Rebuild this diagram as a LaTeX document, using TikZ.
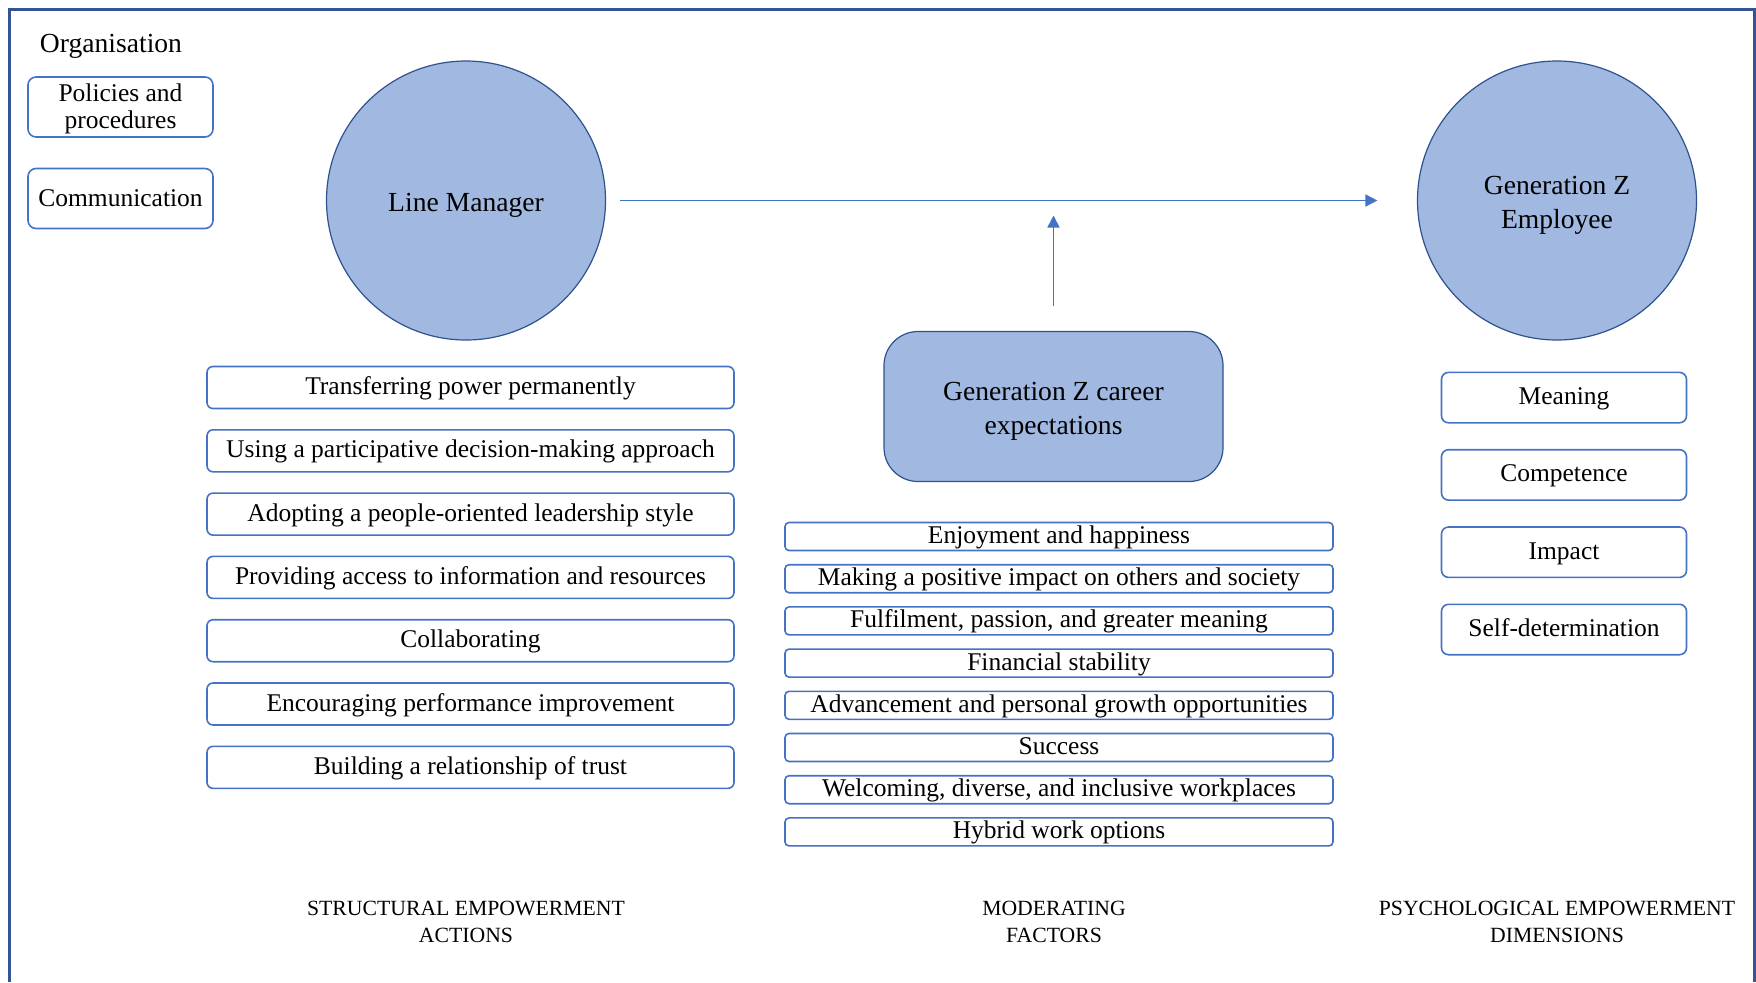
\documentclass[tikz,border=0pt]{standalone}
\usepackage{fontspec}
\setmainfont{Liberation Serif}
\usetikzlibrary{positioning,arrows.meta}

\definecolor{frameblue}{RGB}{52,84,150}
\definecolor{darkblue}{RGB}{47,82,143}
\definecolor{boxblue}{RGB}{68,114,196}
\definecolor{fillblue}{RGB}{161,184,225}

% pushes node text a little lower in its shape
\newcommand{\padtop}[1]{\rule{0pt}{#1}}

\begin{document}
\begin{tikzpicture}[x=0.5pt,y=-0.5pt,>={Triangle[length=6pt,width=6pt]}]
    \tikzset{bigfont/.style={font=\fontsize{13.8}{16.8}\selectfont},
             itemfont/.style={font=\fontsize{12.75}{13.5}\selectfont},
             actor/.style={circle,draw=darkblue,fill=fillblue,line width=0.6pt,minimum size=139.5pt,inner sep=0pt,align=center,bigfont},
             item/.style={draw=boxblue,line width=0.8pt,align=center,inner sep=0pt,itemfont},
             listitem/.style={item,text height=0.88em,text depth=0.18em},
             orgitem/.style={item,rounded corners=4pt,minimum width=92.5pt,minimum height=30pt},
             actionitem/.style={listitem,rounded corners=3pt,minimum width=263.5pt,minimum height=21pt},
             factoritem/.style={listitem,rounded corners=2pt,minimum width=274pt,minimum height=14pt},
             dimitem/.style={listitem,rounded corners=3.5pt,minimum width=122.5pt,minimum height=25.2pt},
             caption/.style={align=center,font=\fontsize{10.85}{13.5}\selectfont},
             link/.style={->,draw=boxblue,line width=0.8pt}}

    \useasboundingbox (0,0) rectangle (1756,982);
    \draw[frameblue,line width=1.5pt] (9,982) -- (9,9) -- (1754,9) -- (1754,982);

    % organisation
    \node[bigfont] (org) at (111,46.5) {Organisation};
    \node[orgitem] (policies) at (120.5,107) {\padtop{11pt}Policies and\\procedures};
    \node[orgitem] (comm) at (120.5,198.5) {Communication};

    % main actors
    \node[actor] (lm) at (466,200.5) {\padtop{14pt}Line Manager};
    \node[actor] (gze) at (1557,200.5) {\padtop{14pt}Generation Z\\Employee};
    \node[draw=darkblue,fill=fillblue,line width=0.6pt,rounded corners=17pt,minimum width=169.5pt,minimum height=75pt,align=center,bigfont] (career) at (1053.5,406.5) {\padtop{14pt}Generation Z career\\expectations};

    \coordinate (join) at (career.north |- lm.east);
    \draw[link,shorten <=6.75pt,shorten >=19.75pt] (lm.east) -- (gze.west);
    \draw[link,shorten <=12.5pt,shorten >=7.5pt] (career.north) -- (join);

    % structural empowerment actions
    \node[actionitem] (a1) at (470.5,387.5) {Transferring power permanently};
    \node[actionitem] (a2) [below=9.85pt of a1] {Using a participative decision-making approach};
    \node[actionitem] (a3) [below=9.85pt of a2] {Adopting a people-oriented leadership style};
    \node[actionitem] (a4) [below=9.85pt of a3] {Providing access to information and resources};
    \node[actionitem] (a5) [below=9.85pt of a4] {Collaborating};
    \node[actionitem] (a6) [below=9.85pt of a5] {Encouraging performance improvement};
    \node[actionitem] (a7) [below=9.85pt of a6] {Building a relationship of trust};

    % moderating factors
    \node[factoritem] (f1) at (1059,536.5) {Enjoyment and happiness};
    \node[factoritem] (f2) [below=6.3pt of f1] {Making a positive impact on others and society};
    \node[factoritem] (f3) [below=6.3pt of f2] {Fulfilment, passion, and greater meaning};
    \node[factoritem] (f4) [below=6.3pt of f3] {Financial stability};
    \node[factoritem] (f5) [below=6.3pt of f4] {Advancement and personal growth opportunities};
    \node[factoritem] (f6) [below=6.3pt of f5] {Success};
    \node[factoritem] (f7) [below=6.3pt of f6] {Welcoming, diverse, and inclusive workplaces};
    \node[factoritem] (f8) [below=6.3pt of f7] {Hybrid work options};

    % psychological empowerment dimensions
    \node[dimitem] (d1) at (1564,397.6) {Meaning};
    \node[dimitem] (d2) [below=12.65pt of d1] {Competence};
    \node[dimitem] (d3) [below=12.65pt of d2] {Impact};
    \node[dimitem] (d4) [below=12.65pt of d3] {Self-determination};

    % column captions
    \node[caption] (capa) at (466,922) {STRUCTURAL EMPOWERMENT\\ACTIONS};
    \node[caption] (capf) at (1054,922) {MODERATING\\FACTORS};
    \node[caption] (capd) at (1557,922) {PSYCHOLOGICAL EMPOWERMENT\\DIMENSIONS};
\end{tikzpicture}
\end{document}
